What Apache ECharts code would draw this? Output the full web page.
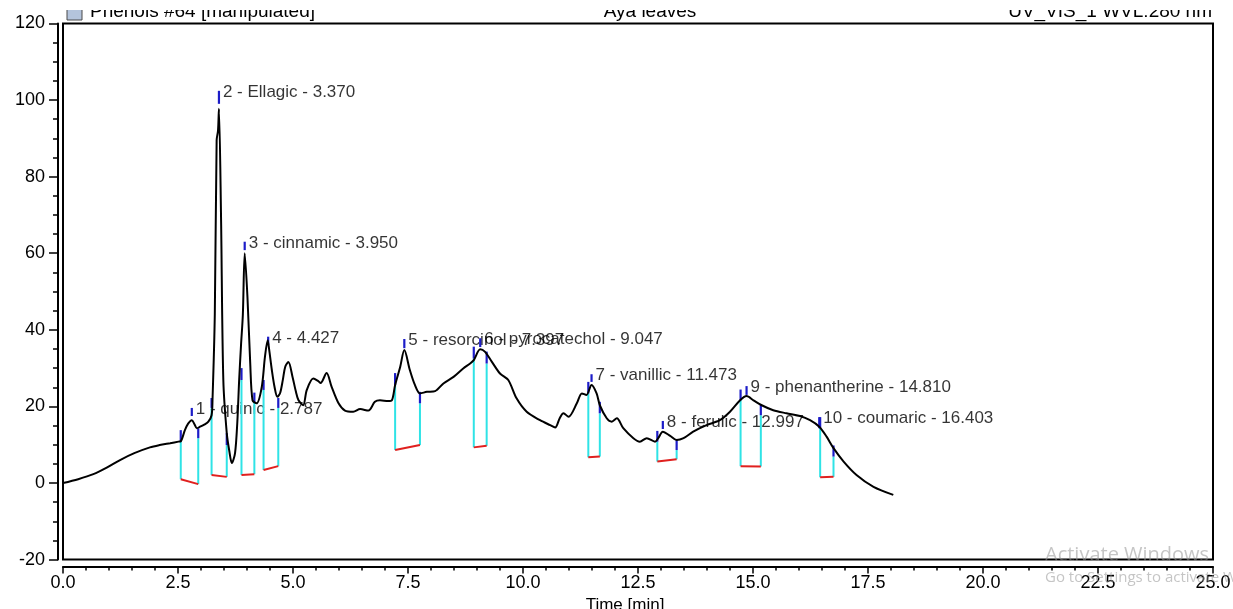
<!DOCTYPE html>
<html>
<head>
<meta charset="utf-8">
<script src="https://cdn.jsdelivr.net/npm/echarts@6/dist/echarts.min.js"></script>
<style>
    html, body { margin: 0; padding: 0; background: #fff; }
    #chromatogram { width: 1233px; height: 609px; }
</style>
</head>
<body>
<div id="chromatogram"></div>
<script>
    'use strict';

    // trace: retention time [min] / signal [mAU]
    var timeMin = [0, 0.33, 0.66, 0.95, 1.24, 1.55, 1.89, 2.10, 2.33, 2.51, 2.56, 2.65, 2.72, 2.80, 2.86, 2.91, 2.98, 3.08, 3.16, 3.23,
        3.25, 3.30, 3.34, 3.37, 3.39, 3.435, 3.485, 3.56, 3.62, 3.67, 3.74, 3.79, 3.83, 3.87, 3.91, 3.95, 4.01, 4.07, 4.12, 4.21,
        4.32, 4.39, 4.45, 4.48, 4.54, 4.60, 4.66, 4.72, 4.78, 4.83, 4.90, 4.99, 5.06, 5.12, 5.22, 5.30, 5.44, 5.55, 5.60, 5.73,
        5.84, 5.99, 6.13, 6.31, 6.46, 6.64, 6.78, 6.89, 7.07, 7.15, 7.22, 7.33, 7.42, 7.54, 7.65, 7.76, 7.91, 8.09, 8.27, 8.49,
        8.70, 8.85, 8.93, 9.07, 9.17, 9.32, 9.50, 9.68, 9.86, 10.08, 10.37, 10.59, 10.70, 10.80, 10.88, 10.99, 11.17, 11.28, 11.38, 11.49,
        11.60, 11.67, 11.82, 11.93, 12.04, 12.18, 12.40, 12.54, 12.69, 12.87, 12.94, 13.04, 13.20, 13.34, 13.49, 13.70, 13.99, 14.28, 14.50, 14.72,
        14.86, 15.01, 15.19, 15.44, 15.73, 16.02, 16.24, 16.44, 16.60, 16.75, 16.97, 17.25, 17.62, 18.05];
    var signal = [0, 1.0, 2.3, 4.0, 6.0, 7.8, 9.3, 9.9, 10.4, 10.8, 10.9, 13.8, 15.5, 16.4, 15.3, 14.3, 14.7, 15.3, 16.0, 17.7,
        21.6, 44, 89.5, 92, 97.7, 70, 27, 13, 8, 5.2, 7.8, 16, 27, 36, 44, 60, 48.5, 31.3, 21.6, 20.8,
        25, 32.9, 37.3, 35, 29.5, 25, 22.5, 23.5, 27, 30.3, 31.6, 27.7, 24, 21.6, 20.3, 24.3, 27.3, 26.6, 26.1, 28.7,
        25.1, 20.8, 18.9, 18.6, 19.3, 18.9, 21.2, 21.6, 21.4, 21.6, 25.6, 30.3, 34.7, 29.5, 25.6, 23.4, 23.8, 24, 26, 27.7,
        29.9, 31.2, 32.1, 34.9, 34.3, 31.7, 28.6, 26.9, 22.1, 18.6, 16.4, 15.1, 14.5, 17, 18.2, 17.3, 20.8, 23.4, 23, 25.6,
        23.4, 20.3, 16.9, 16, 16.9, 14.3, 11.7, 10.8, 11.7, 10.8, 11.7, 13.4, 12.3, 11.2, 11.7, 13.4, 15.1, 16.4, 18.6, 21.6,
        22.7, 21.6, 20.3, 19.0, 18.2, 17.5, 16.4, 14.7, 12.1, 9.1, 5.6, 2.1, -1.0, -3.1];

    // peak table
    var peakNames = ['1 - quinic - 2.787', '2 - Ellagic - 3.370', '3 - cinnamic - 3.950', '4 - 4.427',
        '5 - resorcinol - 7.397', '6 - pyrocatechol - 9.047', '7 - vanillic - 11.473', '8 - ferulic - 12.997',
        '9 - phenantherine - 14.810', '10 - coumaric - 16.403'];
    var apexTime = [2.80, 3.39, 3.95, 4.46, 7.42, 9.07, 11.49, 13.04, 14.86, 16.44];
    var apexLow = [17.5, 99.0, 60.8, 36.0, 35.2, 35.5, 26.4, 14.1, 23.0, 14.3];
    var apexHigh = [19.6, 102.4, 63.0, 38.2, 37.6, 37.8, 28.4, 16.2, 25.3, 17.2];

    // integration limits and baseline
    var startTime = [2.56, 3.23, 3.88, 4.36, 7.22, 8.93, 11.42, 12.92, 14.73, 16.46];
    var endTime = [2.94, 3.56, 4.16, 4.68, 7.76, 9.21, 11.67, 13.34, 15.17, 16.75];
    var startBase = [1.0, 2.1, 2.1, 3.4, 8.6, 9.3, 6.7, 5.6, 4.4, 1.5];
    var endBase = [-0.3, 1.6, 2.3, 4.4, 9.9, 9.7, 6.9, 6.2, 4.3, 1.6];
    var startTop = [10.8, 19.6, 26.9, 24.3, 25.6, 32.5, 23.4, 10.8, 21.6, 14.3];
    var endTop = [11.7, 9.9, 21.0, 19.6, 20.8, 31.2, 18.2, 8.6, 17.7, 6.9];
    var startMark = [13.8, 22.2, 30.0, 26.9, 28.7, 35.6, 26.4, 13.6, 24.4, 17.2];
    var endMark = [14.3, 13.0, 23.6, 22.2, 23.8, 34.3, 21.2, 11.2, 20.6, 9.8];

    var xTicks = { min: 0, max: 25, interval: 2.5 };
    var yTicks = { min: -20, max: 120, interval: 20 };

    var FONT = '"Liberation Sans", Arial, sans-serif';

    var tracePoints = timeMin.map(function (t, i) { return [t, signal[i]]; });

    var cyanSegs = [], redSegs = [], blueSegs = [];
    for (var i = 0; i < peakNames.length; i++) {
        cyanSegs.push([startTime[i], startBase[i], startTime[i], startTop[i]]);
        cyanSegs.push([endTime[i], endBase[i], endTime[i], endTop[i]]);
        redSegs.push([startTime[i], startBase[i], endTime[i], endBase[i]]);
        blueSegs.push([startTime[i], startTop[i], startTime[i], startMark[i]]);
        blueSegs.push([endTime[i], endTop[i], endTime[i], endMark[i]]);
        blueSegs.push([apexTime[i], apexLow[i], apexTime[i], apexHigh[i]]);
    }
    var labelPoints = apexTime.map(function (t, i) { return [t, apexHigh[i] - 0.4]; });

    function segmentSeries(data, color, width) {
        return {
            type: 'custom',
            coordinateSystem: 'cartesian2d',
            encode: { x: [0, 2], y: [1, 3] },
            z: 3,
            silent: true,
            data: data,
            renderItem: function (params, api) {
                var p1 = api.coord([api.value(0), api.value(1)]);
                var p2 = api.coord([api.value(2), api.value(3)]);
                return {
                    type: 'line',
                    shape: { x1: p1[0], y1: p1[1], x2: p2[0], y2: p2[1] },
                    style: { stroke: color, lineWidth: width }
                };
            }
        };
    }

    var chart = echarts.init(document.getElementById('chromatogram'), null, { renderer: 'canvas' });

    chart.setOption({
        animation: false,
        grid: {
            left: 63,
            right: 20,
            top: 23.4,
            bottom: 49.4,
            outerBoundsMode: 'none',
            containLabel: false,
            show: true,
            borderColor: '#000',
            borderWidth: 2,
            backgroundColor: 'transparent'
        },
        xAxis: {
            type: 'value',
            min: xTicks.min,
            max: xTicks.max,
            interval: xTicks.interval,
            position: 'bottom',
            offset: 7,
            name: 'Time [min]',
            nameLocation: 'middle',
            nameGap: 27,
            nameTextStyle: { color: '#000', fontSize: 17, fontFamily: FONT, padding: [0, 26, 0, 0] },
            axisLine: { show: true, onZero: false, lineStyle: { color: '#000', width: 2 } },
            axisTick: { show: true, inside: false, length: 7, lineStyle: { color: '#000', width: 1.5 } },
            minorTick: { show: true, splitNumber: 5, length: 4, lineStyle: { color: '#000', width: 1.5 } },
            splitLine: { show: false },
            axisLabel: {
                color: '#000', fontSize: 18, fontFamily: FONT, margin: 7,
                formatter: function (v) { return v.toFixed(1); }
            }
        },
        yAxis: {
            type: 'value',
            min: yTicks.min,
            max: yTicks.max,
            interval: yTicks.interval,
            position: 'left',
            offset: 5,
            axisLine: { show: true, onZero: false, lineStyle: { color: '#000', width: 2 } },
            axisTick: { show: true, inside: false, length: 9, lineStyle: { color: '#000', width: 1.5 } },
            minorTick: { show: true, splitNumber: 4, length: 5, lineStyle: { color: '#000', width: 1.5 } },
            splitLine: { show: false },
            axisLabel: { color: '#000', fontSize: 18, fontFamily: FONT, margin: 13 }
        },
        series: [
            {
                type: 'scatter',
                data: labelPoints,
                symbolSize: 0,
                z: 2,
                silent: true,
                label: {
                    show: true,
                    position: 'right',
                    distance: 4,
                    color: '#000',
                    textBorderWidth: 0,
                    fontSize: 17,
                    fontFamily: FONT,
                    formatter: function (p) { return peakNames[p.dataIndex]; }
                }
            },
            segmentSeries(cyanSegs, '#2fe3e6', 2),
            segmentSeries(redSegs, '#e0201e', 2),
            segmentSeries(blueSegs, '#1c1cc8', 2.2),
            {
                type: 'line',
                data: tracePoints,
                smooth: 0.3,
                symbol: 'none',
                z: 4,
                silent: true,
                lineStyle: { color: '#000', width: 2 }
            }
        ],
        graphic: [
            { type: 'rect', shape: { x: 67, y: 6, width: 15, height: 14 }, style: { fill: '#b4c4dc', stroke: '#4a4a4a', lineWidth: 1 }, z: 90 },
            { type: 'text', x: 90, y: 12, style: { text: 'Phenols #64 [manipulated]', font: '19px ' + FONT, fill: '#000', textVerticalAlign: 'middle' }, z: 90 },
            { type: 'text', x: 650, y: 12, style: { text: 'Aya leaves', font: '19px ' + FONT, fill: '#000', textAlign: 'center', textVerticalAlign: 'middle' }, z: 90 },
            { type: 'text', x: 1212, y: 12, style: { text: 'UV_VIS_1 WVL:280 nm', font: '19px ' + FONT, fill: '#000', textAlign: 'right', textVerticalAlign: 'middle' }, z: 90 },
            { type: 'rect', shape: { x: 0, y: 0, width: 1233, height: 10 }, style: { fill: '#fff' }, z: 95 },
            { type: 'text', x: 1045, y: 555, style: { text: 'Activate Windows', font: '20px "Open Sans", sans-serif', fill: 'rgba(150,150,150,0.55)', textVerticalAlign: 'middle' }, z: 96 },
            { type: 'text', x: 1045, y: 578, style: { text: 'Go to Settings to activate Windows.', font: '15px "Open Sans", sans-serif', fill: 'rgba(150,150,150,0.55)', textVerticalAlign: 'middle' }, z: 96 }
        ]
    });
</script>
</body>
</html>
